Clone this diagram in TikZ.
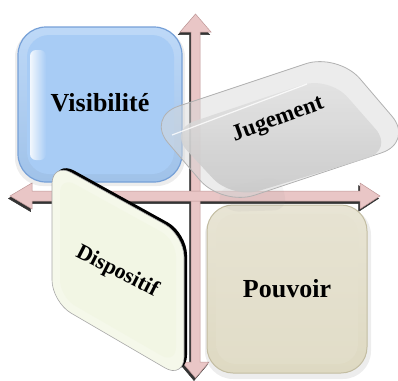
\documentclass[tikz,border=0pt]{standalone}
\usepackage{fontspec}
\setmainfont{Liberation Serif}

\definecolor{axispink}{RGB}{233,198,198}
\definecolor{axisedge}{RGB}{190,150,150}
\definecolor{visblue}{RGB}{168,204,245}
\definecolor{visedge}{RGB}{118,160,215}
\definecolor{pouvbeige}{RGB}{222,217,194}
\definecolor{pouvedge}{RGB}{195,189,162}
\definecolor{dispcream}{RGB}{245,248,234}
\definecolor{dispface}{RGB}{242,246,228}

\begin{document}
\begin{tikzpicture}[x=1pt,y=-1pt,
    boxtext/.style={font=\bfseries\fontsize{26}{26}\selectfont,inner sep=0pt},
    tilttext/.style={font=\bfseries\fontsize{22}{22}\selectfont,inner sep=0pt},
    boxshadow/.style={fill=black,opacity=.07}]

  \useasboundingbox (0,0) rectangle (398,380);

  %%%% The two axes (a dark copy first, then the pink one) %%%%
  \foreach \dx/\dy/\fc/\dc in {-1.5/2.5/black!80/black!80, 0/0/axispink/axisedge}{
    \begin{scope}[shift={(\dx,\dy)}]
      %% vertical axis
      \path[fill=\fc,draw=\dc,line width=.5pt]
        (191,32) -- (180,32) -- (195.5,14) -- (211,32) -- (200,32)
        -- (200,362) -- (209,362) -- (195.5,378) -- (182,362) -- (191,362) -- cycle;
      %% horizontal axis
      \path[fill=\fc,draw=\dc,line width=.5pt]
        (32,191) -- (32,183) -- (10,196) -- (32,209) -- (32,201)
        -- (360,201) -- (360,209) -- (380,196) -- (360,183) -- (360,191) -- cycle;
    \end{scope}
  }

  %%%% Visibilite (top left) %%%%
  \path[boxshadow,rounded corners=28pt] (15,29) rectangle (185,186);
  \draw[visedge,line width=1.2pt,rounded corners=28pt,
        top color=visblue!75!white,bottom color=visblue!95!black] (18,27) rectangle (182,182);
  \path[rounded corners=22pt,fill=visblue] (27,35) rectangle (174,174);
  \path[rounded corners=6pt,left color=white!85!visblue,right color=visblue] (30,50) rectangle (46,160);
  \node[boxtext] (vis) at (100,103) {Visibilité};

  %%%% Pouvoir (bottom right) %%%%
  \path[boxshadow,rounded corners=28pt] (205,207) rectangle (371,379);
  \draw[pouvedge,line width=1pt,rounded corners=26pt,
        top color=pouvbeige!70!white,bottom color=pouvbeige] (207,205) rectangle (367,373);
  \path[rounded corners=20pt,top color=pouvbeige!75!white,bottom color=pouvbeige!90!white]
        (216,214) rectangle (358,364);
  \node[boxtext] (pou) at (287,289) {Pouvoir};

  %%%% Dispositif (bottom left, leaning) %%%%
  \path[fill=black,rounded corners=22pt]
    (55,160) -- (187,233) -- (187,377) -- (55,300) -- cycle;
  \draw[gray!70,line width=.6pt,fill=dispcream,rounded corners=22pt]
    (52,162) -- (184,235) -- (184,379) -- (52,302) -- cycle;
  \path[fill=dispface,rounded corners=17pt]
    (60,176) -- (176,240) -- (176,364) -- (60,297) -- cycle;
  \node[tilttext,rotate=-27] (dis) at (117,272) {Dispositif};

  %%%% Jugement (glass slab, top right) %%%%
  \path[fill=gray,opacity=.07,rounded corners=14pt]
    (215,190) -- (280,175) -- (288,210) -- (225,212) -- cycle;
  \draw[gray!60,line width=.8pt,fill=gray!30,fill opacity=.5,rounded corners=34pt]
    (146,117) -- (338,53) -- (414,142) -- (222,206) -- cycle;
  \path[rounded corners=28pt,top color=gray!22,bottom color=gray!45,opacity=.85]
    (168,130) -- (329,76) -- (394,150) -- (232,199) -- cycle;
  \draw[white,line width=1.2pt,opacity=.8] (172,135) -- (307,84);
  \node[tilttext,font=\bfseries\fontsize{23}{23}\selectfont,rotate=20] (jug) at (278,120) {Jugement};

\end{tikzpicture}
\end{document}
